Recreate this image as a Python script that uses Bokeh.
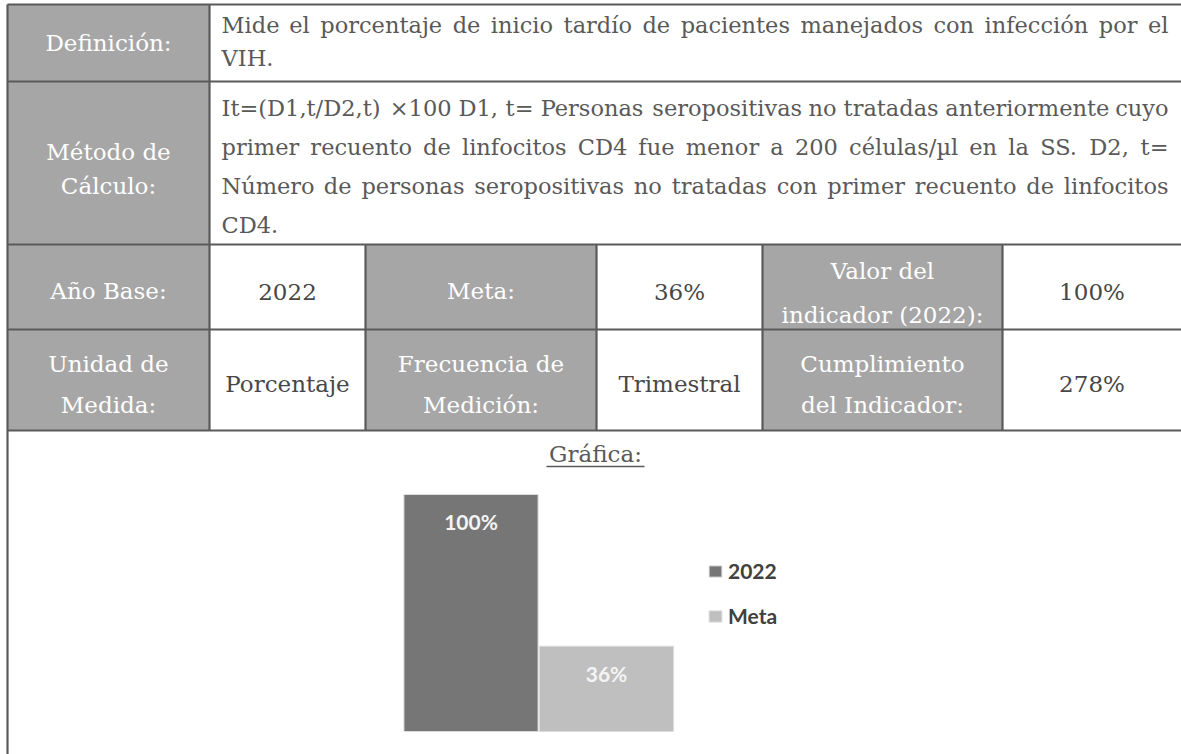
from bokeh.plotting import figure
from bokeh.models import Range1d, ColumnDataSource, Legend, LegendItem
from bokeh.core.properties import value
from bokeh.embed import file_html
from bokeh.resources import INLINE

# ---------------- data ----------------
categories = ["2022", "Meta"]
values = [100, 36]
value_labels = ["100%", "36%"]
bar_colors = ["#767676", "#bfbfbf"]

definition_label = ["Definición:"]
definition_lines = [
    "Mide el porcentaje de inicio tardío de pacientes manejados con infección por el",
    "VIH.",
]
method_label = ["Método de", "Cálculo:"]
method_lines = [
    "It=(D1,t/D2,t) ×100 D1, t= Personas seropositivas no tratadas anteriormente cuyo",
    "primer recuento de linfocitos CD4 fue menor a 200 células/µl en la SS. D2, t=",
    "Número de personas seropositivas no tratadas con primer recuento de linfocitos",
    "CD4.",
]
row3_labels = [["Año Base:"], ["Meta:"], ["Valor del", "indicador (2022):"]]
row3_values = ["2022", "36%", "100%"]
row4_labels = [["Unidad de", "Medida:"], ["Frecuencia de", "Medición:"], ["Cumplimiento", "del Indicador:"]]
row4_values = ["Porcentaje", "Trimestral", "278%"]
chart_title = "Gráfica:"

# ---------------- layout (page pixel coordinates) ----------------
W, H = 1181, 754
OX, OY = 0, 0
SERIF = value("DejaVu Serif")
FS = "22.5px"
FS_HEAD = "23px"
BORDER = "#5a5a5a"
HEAD_FILL = "#a6a6a6"
TXT = "#595959"
VAL = "#474747"

p = figure(width=W, height=H, output_backend="svg", toolbar_location=None,
           x_range=Range1d(OX, OX + W), y_range=Range1d(OY + H, OY),
           x_axis_type=None, y_axis_type=None, min_border=0,
           outline_line_color=None, background_fill_color="white",
           border_fill_color="white")
p.grid.visible = False

xs = [7, 209, 365, 596, 762, 1002, 1185]
ys = [4, 81, 244, 329, 430, 760]

# header (gray) cells
hl, hr, ht, hb = [], [], [], []
for (t, b) in [(ys[0], ys[1]), (ys[1], ys[2])]:
    hl.append(xs[0]); hr.append(xs[1]); ht.append(t); hb.append(b)
for (t, b) in [(ys[2], ys[3]), (ys[3], ys[4])]:
    for c in (0, 2, 4):
        hl.append(xs[c]); hr.append(xs[c + 1]); ht.append(t); hb.append(b)
p.quad(left=hl, right=hr, top=ht, bottom=hb, fill_color=HEAD_FILL, line_color=None)

# borders
sx0, sy0, sx1, sy1 = [], [], [], []
for y in ys[:5]:
    sx0.append(xs[0]); sx1.append(xs[-1]); sy0.append(y); sy1.append(y)
sx0.append(xs[0]); sx1.append(xs[0]); sy0.append(ys[0]); sy1.append(ys[-1])
sx0.append(xs[1]); sx1.append(xs[1]); sy0.append(ys[0]); sy1.append(ys[4])
for c in (2, 3, 4, 5):
    sx0.append(xs[c]); sx1.append(xs[c]); sy0.append(ys[2]); sy1.append(ys[4])
p.segment(x0=sx0, y0=sy0, x1=sx1, y1=sy1, line_color=BORDER, line_width=2.2)

def put(xv, yv, txt, color, align="center", size=FS):
    p.text(x=xv, y=yv, text=txt, text_font=SERIF, text_font_size=size,
           text_color=color, text_align=align, text_baseline="middle")

# ---- justified paragraph lines (approximate DejaVu Serif advance widths, em) ----
CW = {" ": .318, "a": .596, "b": .640, "c": .560, "d": .640, "e": .592, "f": .370,
      "g": .640, "h": .644, "i": .320, "j": .310, "k": .606, "l": .320, "m": .948,
      "n": .644, "o": .602, "p": .640, "q": .640, "r": .478, "s": .513, "t": .402,
      "u": .644, "v": .565, "w": .856, "x": .564, "y": .565, "z": .527,
      "í": .320, "ú": .644, "é": .592, "ó": .602, "µ": .650,
      "C": .734, "D": .830, "I": .472, "M": .995, "N": .846, "P": .733, "S": .685,
      "V": .722, "H": .872, "T": .700,
      "0": .636, "1": .636, "2": .636, "4": .636,
      "(": .390, ")": .390, "=": .838, "/": .337, ",": .318, ".": .318, "×": .838}

def est(word):
    return sum(CW.get(ch, 0.6) for ch in word)

TEXT_LEFT, TEXT_RIGHT = 221, 1168
# natural rendered widths (px) of the full lines at FS, used to calibrate
natural_w = {definition_lines[0]: 907, method_lines[0]: 945,
             method_lines[1]: 889, method_lines[2]: 919}

def justified(line, y, color):
    words = line.split(" ")
    ests = [est(w) for w in words]
    k = natural_w[line] / (sum(ests) + CW[" "] * (len(words) - 1))
    widths = [e * k for e in ests]
    gap = (TEXT_RIGHT - TEXT_LEFT - sum(widths)) / (len(words) - 1)
    xpos, x = [], TEXT_LEFT
    for w in widths:
        xpos.append(x)
        x += w + gap
    put(xpos[:-1], [y] * (len(words) - 1), words[:-1], color, "left")
    put([TEXT_RIGHT], [y], [words[-1]], color, "right")

# row 1 / row 2
put([108], [42], definition_label, "white", size=FS_HEAD)
put([108, 108], [151, 185], method_label, "white", size=FS_HEAD)
def_y = [24.5, 57.5]
justified(definition_lines[0], def_y[0], TXT)
put([TEXT_LEFT], [def_y[1]], [definition_lines[1]], TXT, "left")
met_y = [107.5, 146, 185, 224.5]
for i in range(3):
    justified(method_lines[i], met_y[i], TXT)
put([TEXT_LEFT], [met_y[3]], [method_lines[3]], TXT, "left")

# rows 3/4
def cell_block(lines, cx, cy, spacing, color):
    n = len(lines)
    yy = [cy + (i - (n - 1) / 2) * spacing for i in range(n)]
    put([cx] * n, yy, lines, color, size=FS_HEAD)

centers = [(xs[i] + xs[i + 1]) / 2 for i in range(6)]
centers[5] = (1002 + 1181) / 2
for k in range(3):
    cell_block(row3_labels[k], centers[2 * k], 292.5 if len(row3_labels[k]) > 1 else 290, 44, "white")
    cell_block([row3_values[k]], centers[2 * k + 1], 291, 44, VAL)
    cell_block(row4_labels[k], centers[2 * k], 384, 41, "white")
    cell_block([row4_values[k]], centers[2 * k + 1], 383, 41, VAL)

# chart title with underline
put([595], [453], [chart_title], TXT, size=FS_HEAD)
p.segment(x0=[546], y0=[466], x1=[644], y1=[466], line_color=TXT, line_width=1.3)

# ---------------- bar chart on its own scales ----------------
px_per_unit = 2.37
base_px = 731
p.extra_y_ranges = {"chart_y": Range1d((base_px - (OY + H)) / px_per_unit,
                                       (base_px - OY) / px_per_unit)}
bar_step = 135.5
first_center = 470.5
p.extra_x_ranges = {"chart_x": Range1d((OX - first_center) / bar_step,
                                       (OX + W - first_center) / bar_step)}

src = ColumnDataSource(dict(x=list(range(len(categories))), top=values,
                            cat=categories, color=bar_colors, lab=value_labels))
bars = p.vbar(x="x", top="top", bottom=0, width=0.99, fill_color="color",
              line_color="#dcdcdc", line_width=1, source=src,
              x_range_name="chart_x", y_range_name="chart_y")
p.text(x="x", y="top", text="lab", source=src, x_range_name="chart_x",
       y_range_name="chart_y", text_font=value("Lato"), text_font_style="bold",
       text_font_size="21px", text_color="#f4f4f4", text_align="center",
       text_baseline="middle", y_offset=27)

legend = Legend(items=[LegendItem(label=value(c), renderers=[bars], index=i)
                       for i, c in enumerate(categories)],
                location=(707, 126), orientation="vertical",
                border_line_color=None, background_fill_alpha=0,
                glyph_width=16, glyph_height=14, label_standoff=5,
                label_height=20, spacing=20, padding=0, margin=0,
                label_text_font="Lato", label_text_font_style="bold",
                label_text_font_size="21px", label_text_color="#404040")
p.add_layout(legend)

open("out.html", "w").write(file_html(p, INLINE))
